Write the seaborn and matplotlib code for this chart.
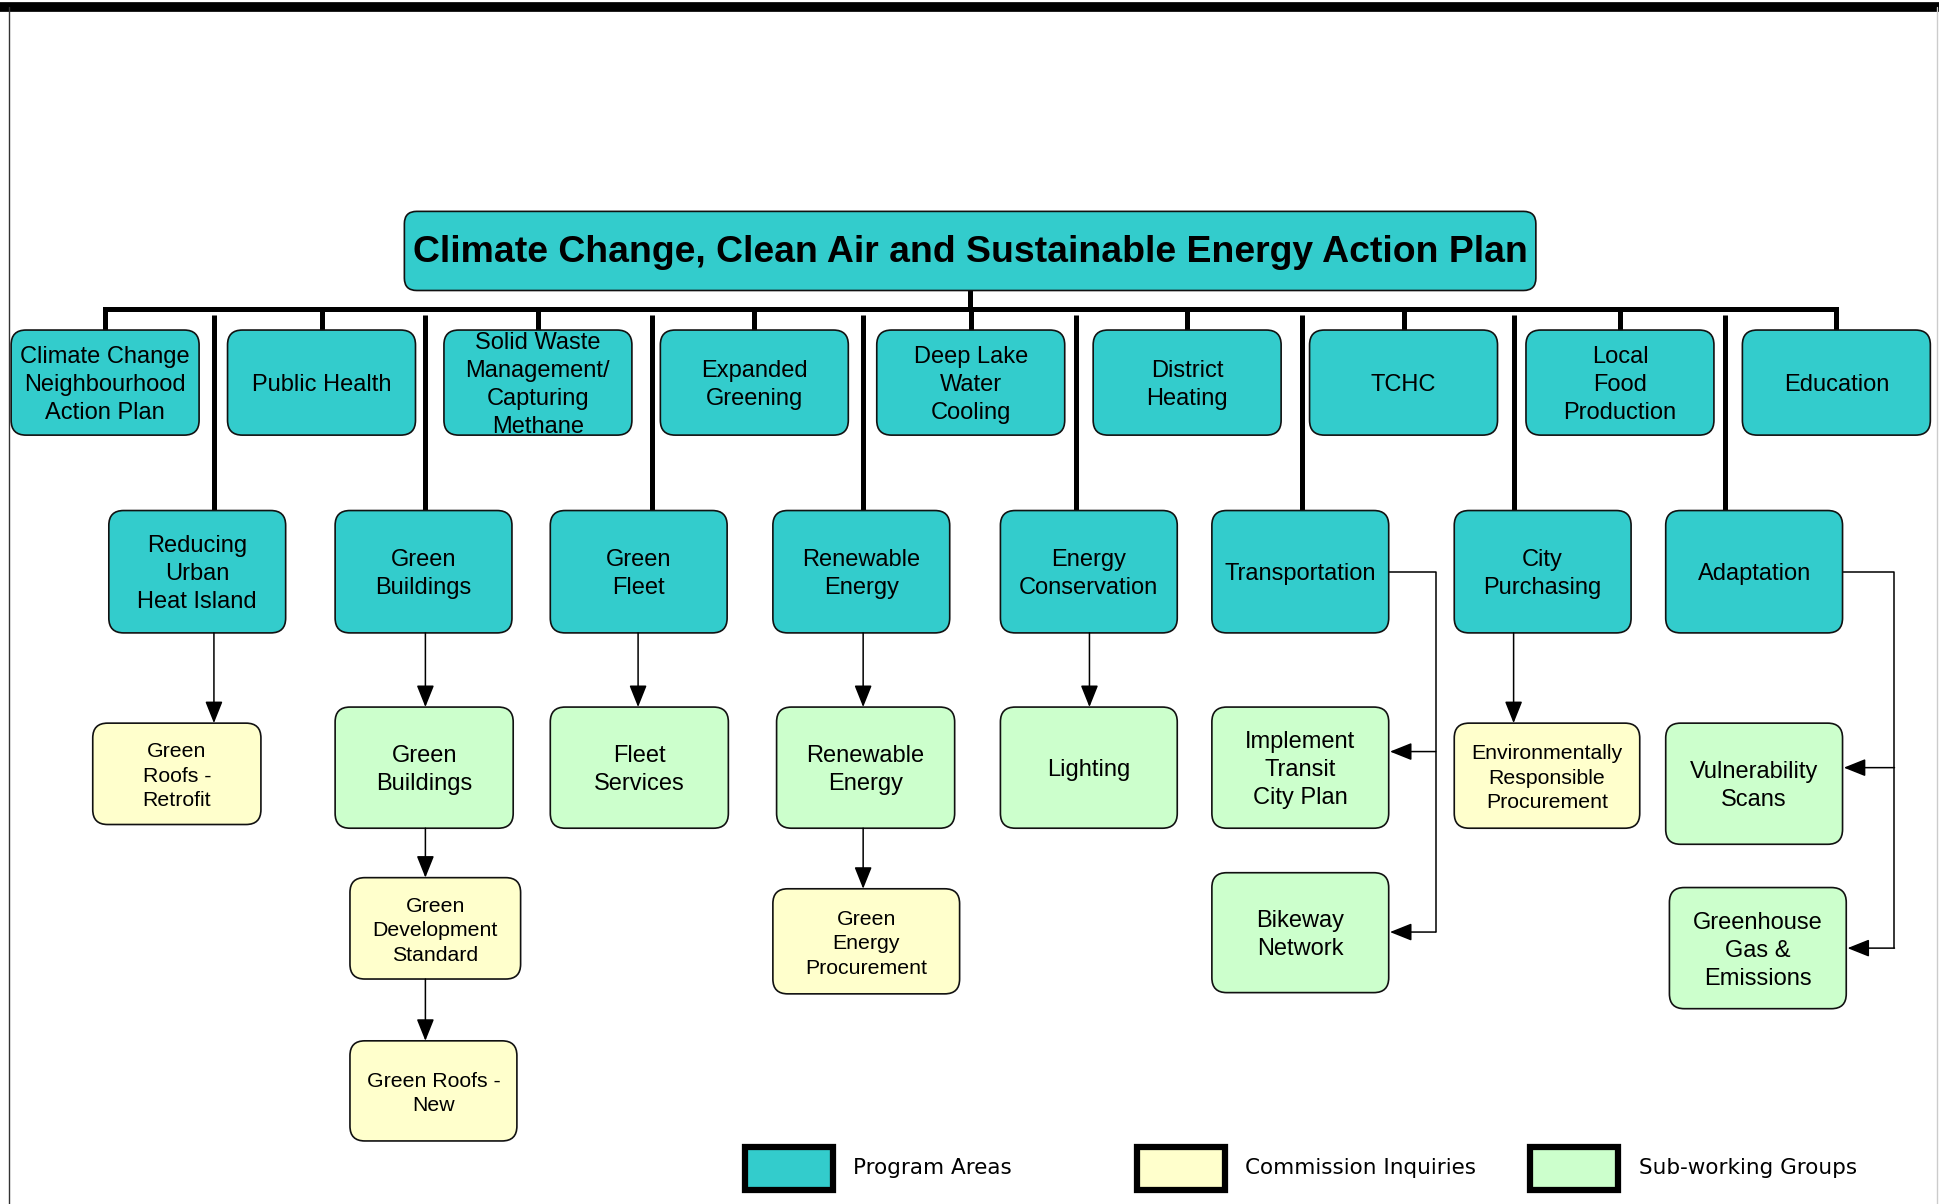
import matplotlib
matplotlib.use("Agg")
import matplotlib.pyplot as plt
from matplotlib.patches import FancyBboxPatch, Rectangle
import seaborn as sns

# ---- chart content ----
plan_title = "Climate Change, Clean Air and Sustainable Energy Action Plan"

top_areas = ["Climate Change\nNeighbourhood\nAction Plan", "Public Health",
             "Solid Waste\nManagement/\nCapturing\nMethane", "Expanded\nGreening",
             "Deep Lake\nWater\nCooling", "District\nHeating", "TCHC",
             "Local\nFood\nProduction", "Education"]

mid_areas = ["Reducing\nUrban\nHeat Island", "Green\nBuildings", "Green\nFleet",
             "Renewable\nEnergy", "Energy\nConservation", "Transportation",
             "City\nPurchasing", "Adaptation"]

sub_labels = ["Green\nRoofs -\nRetrofit", "Green\nBuildings", "Fleet\nServices",
              "Renewable\nEnergy", "Lighting", "Implement\nTransit\nCity Plan",
              "Bikeway\nNetwork", "Environmentally\nResponsible\nProcurement",
              "Vulnerability\nScans", "Greenhouse\nGas &\nEmissions",
              "Green\nDevelopment\nStandard", "Green\nEnergy\nProcurement",
              "Green Roofs -\nNew"]
sub_kinds = ["Commission Inquiries", "Sub-working Groups", "Sub-working Groups",
             "Sub-working Groups", "Sub-working Groups", "Sub-working Groups",
             "Sub-working Groups", "Commission Inquiries", "Sub-working Groups",
             "Sub-working Groups", "Commission Inquiries", "Commission Inquiries",
             "Commission Inquiries"]
# parent of each sub box: ("mid", i) or ("sub", j)
sub_parents = [("mid", 0), ("mid", 1), ("mid", 2), ("mid", 3), ("mid", 4),
               ("mid", 5), ("mid", 5), ("mid", 6), ("mid", 7), ("mid", 7),
               ("sub", 1), ("sub", 3), ("sub", 10)]

legend_labels = ["Program Areas", "Commission Inquiries", "Sub-working Groups"]

# ---- styles ----
colors = {"Program Areas": "#33CCCC", "Commission Inquiries": "#FFFFCC",
          "Sub-working Groups": "#CCFFCC"}
BOX_FONT = "Liberation Sans"

# ---- layout (page units, y grows downward) ----
title_box = (327, 171, 1242, 235)
top_y = (267, 352)
top_x0, top_step, top_w = 9, 175, 152
bar_y = 250
mid_y = (413, 512)
mid_x = [88, 271, 445, 625, 809, 980, 1176, 1347]
mid_w = 143
mid_line_x = [173, 344, 527, 698, 870, 1053, 1224, 1395]
mid_arrow_x = [173, 344, 516, 698, 881, None, 1224, None]
sub_boxes = [(75, 585, 211, 667), (271, 572, 415, 670), (445, 572, 589, 670),
             (628, 572, 772, 670), (809, 572, 952, 670), (980, 572, 1123, 670),
             (980, 706, 1123, 803), (1176, 585, 1326, 670), (1347, 585, 1490, 683),
             (1350, 718, 1493, 816), (283, 710, 421, 792), (625, 719, 776, 804),
             (283, 842, 418, 923)]
side_x = {5: 1161, 7: 1532}   # elbow connectors for Transportation / Adaptation
side_arrow_y = {5: 608, 6: 754, 8: 621, 9: 767}
legend_x = [600, 917, 1235]

sns.set_theme(style="white")
plt.rcParams["font.family"] = [BOX_FONT, "DejaVu Sans"]

fig = plt.figure(figsize=(19.39, 12.04), dpi=100)
ax = fig.add_axes([0, 0, 1, 1])
ax.set_xlim(0, 1568)
ax.set_ylim(974, 0)
ax.axis("off")

THICK = 3.6
THIN = 1.1


def box(x0, y0, x1, y1, kind, label, size, r=12, weight="normal", ls=1.35, dy=2):
    ax.add_patch(FancyBboxPatch((x0, y0), x1 - x0, y1 - y0,
                                boxstyle=f"round,pad=0,rounding_size={r}",
                                fc=colors[kind], ec="#111111", lw=1.2, zorder=2))
    ax.text((x0 + x1) / 2, (y0 + y1) / 2 + dy, label, ha="center", va="center",
            fontsize=size, fontweight=weight, family=BOX_FONT,
            linespacing=ls, zorder=4, color="black")


def arrow(x0, y0, x1, y1):
    ax.annotate("", xy=(x1, y1), xytext=(x0, y0),
                arrowprops=dict(arrowstyle="-|>,head_length=0.75,head_width=0.3",
                                color="black", lw=THIN, shrinkA=0, shrinkB=0,
                                mutation_scale=18), zorder=3)


# page frame
ax.plot([0, 1568], [6, 6], color="black", lw=7, solid_capstyle="butt", zorder=1)
ax.plot([7.5, 7.5], [6, 974], color="#333333", lw=1.0, zorder=1)
ax.plot([1566, 1566], [6, 974], color="#cccccc", lw=1.0, zorder=1)

# title box
box(*title_box, "Program Areas", plan_title, 26.9, r=10, weight="bold", dy=1)

# top connector bar
tops = [top_x0 + top_step * i + top_w / 2 for i in range(len(top_areas))]
ax.plot([tops[0], tops[-1]], [bar_y, bar_y], color="black", lw=THICK,
        solid_capstyle="projecting", zorder=1)
ax.plot([784, 784], [title_box[3], bar_y], color="black", lw=THICK, zorder=1)
for i, label in enumerate(top_areas):
    x0 = top_x0 + top_step * i
    ax.plot([tops[i], tops[i]], [bar_y, top_y[0]], color="black", lw=THICK, zorder=1)
    box(x0, top_y[0], x0 + top_w, top_y[1], "Program Areas", label, 17)

# mid-level program areas
for i, label in enumerate(mid_areas):
    ax.plot([mid_line_x[i], mid_line_x[i]], [bar_y + 5, mid_y[0]], color="black",
            lw=THICK, solid_capstyle="butt", zorder=1)
    box(mid_x[i], mid_y[0], mid_x[i] + mid_w, mid_y[1], "Program Areas", label, 17)

# sub boxes + connectors
for j, label in enumerate(sub_labels):
    x0, y0, x1, y1 = sub_boxes[j]
    small = sub_kinds[j] == "Commission Inquiries"
    box(x0, y0, x1, y1, sub_kinds[j], label, 15.3 if small else 17,
        ls=1.37 if small else 1.35)
    kind, p = sub_parents[j]
    if kind == "mid" and p in side_x:
        arrow(side_x[p], side_arrow_y[j], x1 + 1, side_arrow_y[j])
    elif kind == "mid":
        arrow(mid_arrow_x[p], mid_y[1], mid_arrow_x[p], y0)
    else:
        ax_x = mid_arrow_x[sub_parents[p][1]]
        arrow(ax_x, sub_boxes[p][3], ax_x, y0)

# elbow lines for side connectors
for p, sx in side_x.items():
    ys = [side_arrow_y[j] for j in range(len(sub_labels)) if sub_parents[j] == ("mid", p)]
    ymid = sum(mid_y) / 2
    ax.plot([mid_x[p] + mid_w, sx, sx], [ymid, ymid, max(ys)], color="black",
            lw=THIN, zorder=1)

# legend
for lx, lab in zip(legend_x, legend_labels):
    ax.add_patch(Rectangle((lx + 2.5, 927.5), 71, 35, fc=colors[lab], ec="black",
                           lw=4.5, zorder=2))
    ax.text(lx + 90, 945, lab, ha="left", va="center", fontsize=15.5,
            family="DejaVu Sans", color="black")

fig.savefig("out.png", dpi=100)
